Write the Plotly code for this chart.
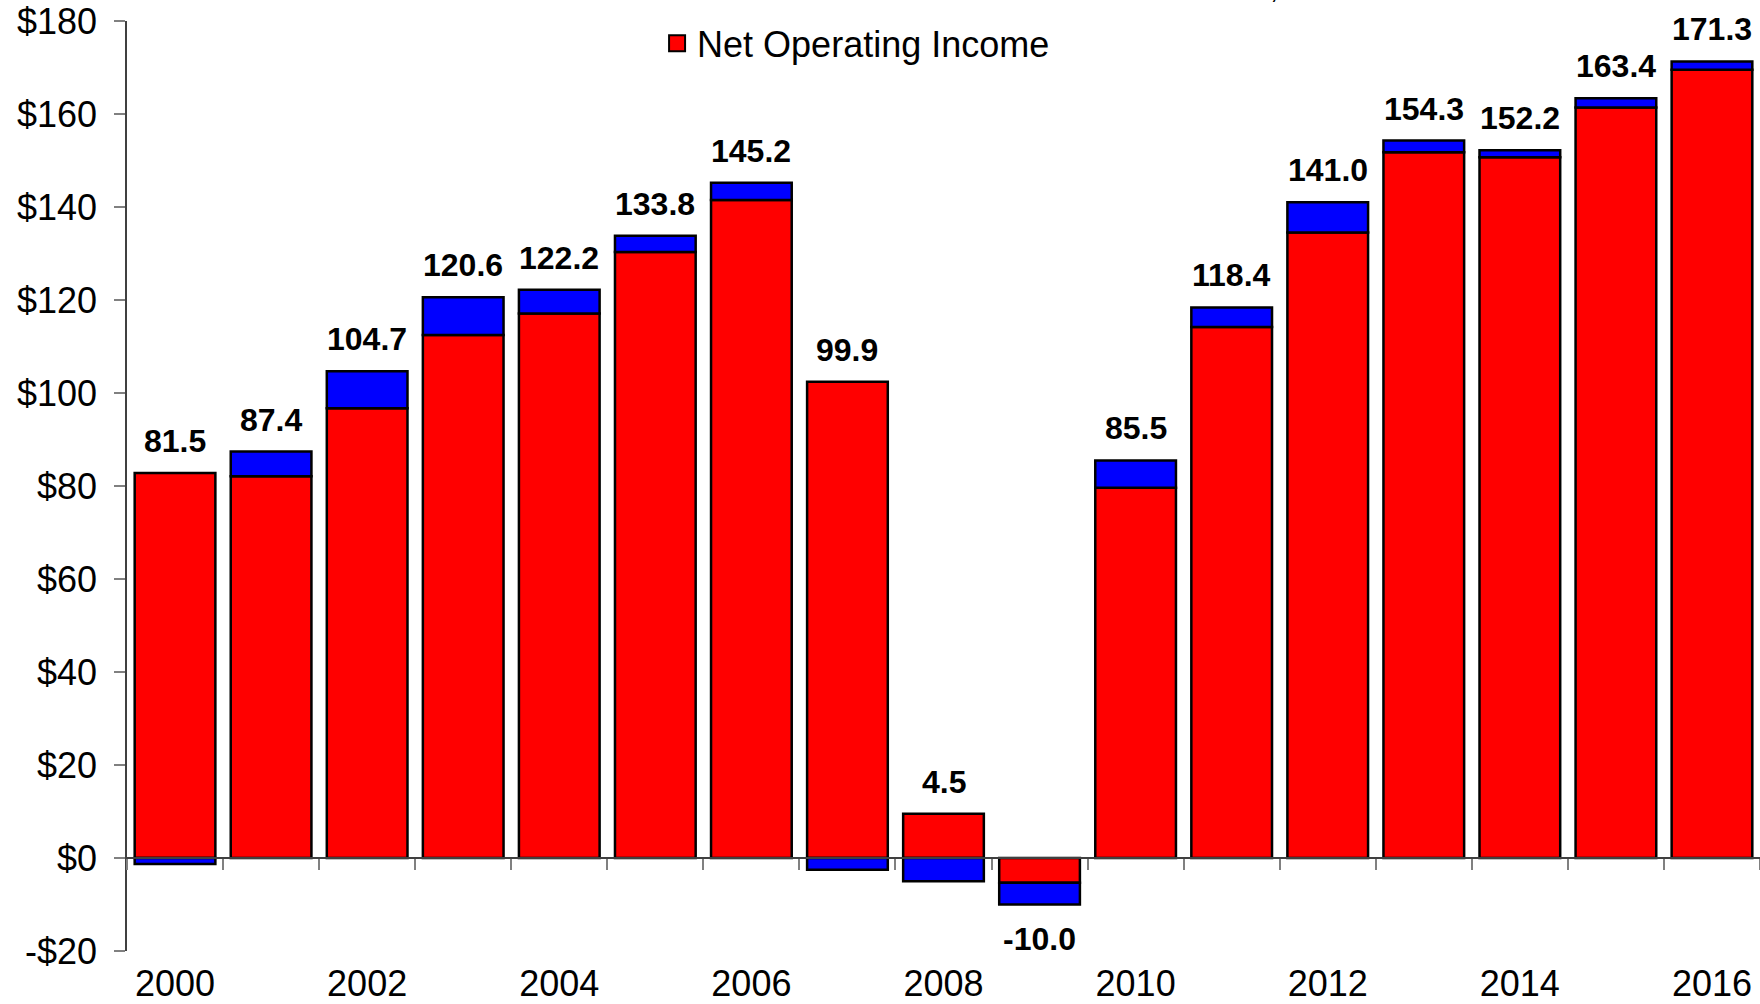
import plotly.graph_objects as go

# ---- data ----
years = list(range(2000, 2017))
net_operating_income = [82.8, 82.1, 96.7, 112.5, 117.1, 130.3, 141.5, 102.4, 9.5, -5.3,
                        79.6, 114.2, 134.5, 151.8, 150.7, 161.4, 169.5]
other_component = [-1.3, 5.3, 8.0, 8.1, 5.1, 3.5, 3.7, -2.5, -5.0, -4.7,
                   5.9, 4.2, 6.5, 2.5, 1.5, 2.0, 1.8]
total_labels = [81.5, 87.4, 104.7, 120.6, 122.2, 133.8, 145.2, 99.9, 4.5, -10.0,
                85.5, 118.4, 141.0, 154.3, 152.2, 163.4, 171.3]
y_tick_vals = [-20, 0, 20, 40, 60, 80, 100, 120, 140, 160, 180]
y_tick_text = ["-$20", "$0", "$20", "$40", "$60", "$80", "$100", "$120", "$140", "$160", "$180"]
x_label_years = years[::2]

FONT = "Liberation Sans, Arial, sans-serif"

fig = go.Figure()
fig.add_trace(go.Bar(
    x=years, y=net_operating_income, name="Net Operating Income",
    marker=dict(color="#FF0000", line=dict(color="#000000", width=2.5)),
    showlegend=False,
))
fig.add_trace(go.Bar(
    x=years, y=other_component, name="Other",
    marker=dict(color="#0000FF", line=dict(color="#000000", width=2.5)),
    showlegend=False,
))
# legend entry (larger square symbol, like the reference), placed on the zero-line axis
fig.add_trace(go.Scatter(
    x=[None], y=[None], mode="markers", name="Net Operating Income",
    xaxis="x2", showlegend=True, hoverinfo="skip",
    marker=dict(symbol="square", size=16, color="#FF0000",
                line=dict(color="#000000", width=2)),
))

# total labels above / below the stacks
for yr, r, b, t in zip(years, net_operating_income, other_component, total_labels):
    if t >= 0:
        ypos = max(r, 0) + max(b, 0)
        fig.add_annotation(x=yr, y=ypos, xref="x", yref="y", text=f"<b>{t:.1f}</b>",
                           showarrow=False, yanchor="bottom", yshift=12,
                           font=dict(family=FONT, size=32, color="#000000"))
    else:
        ypos = min(r, 0) + min(b, 0)
        fig.add_annotation(x=yr, y=ypos, xref="x", yref="y", text=f"<b>{t:.1f}</b>",
                           showarrow=False, yanchor="top", yshift=-14,
                           font=dict(family=FONT, size=32, color="#000000"))

# fragment of a cut-off title at the very top
fig.add_annotation(x=0.706, y=1.036, xref="paper", yref="paper", text=",",
                   showarrow=False, yanchor="middle",
                   font=dict(family=FONT, size=30, color="#000000"))

boundaries = [y - 0.5 for y in years] + [years[-1] + 0.5]

fig.update_layout(
    width=1760, height=1004,
    margin=dict(l=127, r=0, t=21, b=51),
    paper_bgcolor="white", plot_bgcolor="white",
    barmode="relative", bargap=0.16,
    font=dict(family=FONT, size=36, color="#000000"),
    showlegend=True,
    legend=dict(x=0.3246, y=0.976, xanchor="left", yanchor="middle",
                itemsizing="trace",
                bgcolor="rgba(0,0,0,0)", font=dict(family=FONT, size=36, color="#000000")),
    xaxis=dict(
        range=[years[0] - 0.5, years[-1] + 0.5],
        tickvals=x_label_years, ticktext=[str(y) for y in x_label_years],
        ticks="", showline=False, showgrid=False, zeroline=False,
        tickfont=dict(family=FONT, size=36, color="#000000"),
        ticklabelstandoff=8,
    ),
    xaxis2=dict(
        overlaying="x", matches="x", anchor="free", position=0.1,
        tickvals=boundaries, ticks="outside", ticklen=11, tickwidth=1.5,
        tickcolor="#808080", showticklabels=False,
        showline=True, linecolor="#404040", linewidth=1.5,
        showgrid=False, zeroline=False,
    ),
    yaxis=dict(
        range=[-20, 180], tickvals=y_tick_vals, ticktext=y_tick_text,
        ticks="outside", ticklen=11, tickwidth=1.5, tickcolor="#808080",
        showline=True, linecolor="#404040", linewidth=1.5,
        showgrid=False, zeroline=False,
        tickfont=dict(family=FONT, size=36, color="#000000"),
        ticklabelstandoff=10,
    ),
)

fig.write_html("out.html")
